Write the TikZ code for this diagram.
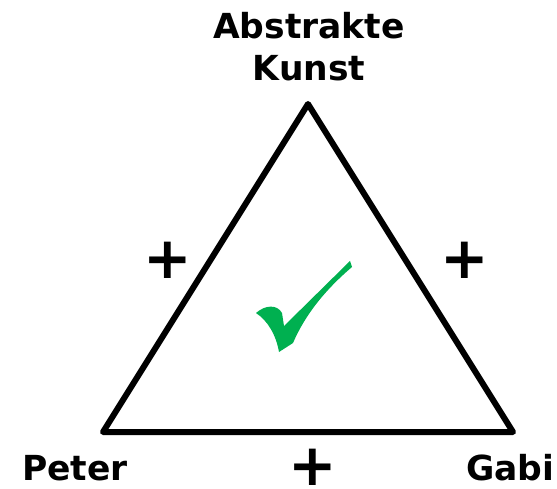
\documentclass[tikz,border=0pt]{standalone}
\usepackage{fontspec}
\setsansfont{DejaVu Sans}
\definecolor{checkgreen}{HTML}{00B050}
\begin{document}
\begin{tikzpicture}[x=1pt,y=-1pt,font=\sffamily\bfseries,
    lbl/.style={inner sep=0pt,font=\sffamily\bfseries\fontsize{34.5}{42}\selectfont},
    plus/.style={inner sep=0pt,font=\sffamily\bfseries\fontsize{58}{58}\selectfont}]
                \useasboundingbox (0,0) rectangle (557,489);
                \coordinate (kunst) at (308,104);
                \coordinate (peter) at (103,432);
                \coordinate (gabi) at (513,432);
                \draw[line width=6pt,line join=round] (kunst) -- (peter) -- (gabi) --cycle;
                \node[lbl,align=center] (lkunst) at (309,47) {Abstrakte\\Kunst};
                \node[lbl,anchor=base west] (lpeter) at (22,480) {Peter};
                \node[lbl,anchor=base west] (lgabi) at (466,480) {Gabi};
                \node[plus] (pl) at (168,260) {+};
                \node[plus] (pr) at (465,260) {+};
                \node[plus] (pb) at (313,467) {+};
                % Haken
                \fill[checkgreen] (256,313) .. controls (265,305) and (277,304) .. (282,313)
                    -- (284,326) -- (350,261) -- (352,267)
                    .. controls (325,290) and (305,315) .. (293,343)
                    -- (279,352) .. controls (276,335) and (268,321) .. cycle;
            \end{tikzpicture}
\end{document}
